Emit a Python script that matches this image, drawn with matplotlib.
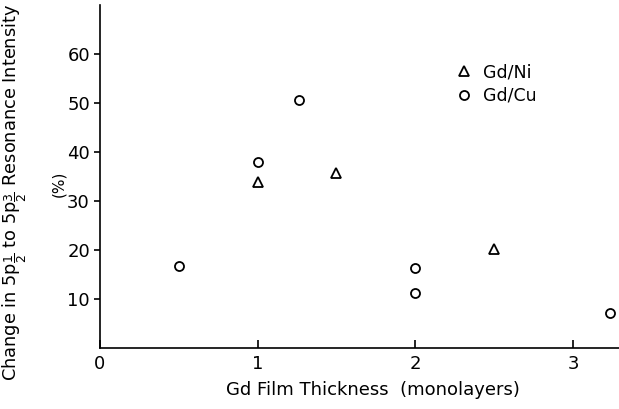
import matplotlib.pyplot as plt

# Resonance intensity change vs. Gd coverage
ni_thickness = [1.0, 1.5, 2.5]
ni_change = [33.8, 35.8, 20.2]

cu_thickness = [0.5, 1.0, 1.26, 2.0, 2.0, 3.23]
cu_change = [16.8, 38.0, 50.6, 16.4, 11.3, 7.2]

x_ticks = [0, 1, 2, 3]
y_ticks = [10, 20, 30, 40, 50, 60]

plt.rcParams['font.family'] = ['DejaVu Sans']
plt.rcParams['mathtext.fontset'] = 'dejavusans'

fig = plt.figure(figsize=(6.19, 4.09), dpi=100)
ax = fig.add_axes([0.161, 0.149, 0.839, 0.839])

ax.plot(ni_thickness, ni_change, linestyle='none', marker='^', markersize=7.5,
        markerfacecolor='none', markeredgecolor='black', markeredgewidth=1.3,
        label='Gd/Ni')
ax.plot(cu_thickness, cu_change, linestyle='none', marker='o', markersize=6.5,
        markerfacecolor='none', markeredgecolor='black', markeredgewidth=1.3,
        label='Gd/Cu')

ax.set_xlim(0, 3.29)
ax.set_ylim(0, 70)

ax.spines['top'].set_visible(False)
ax.spines['right'].set_visible(False)
for side in ['left', 'bottom']:
    ax.spines[side].set_linewidth(1.2)

ax.set_xticks(x_ticks)
ax.set_xticklabels([str(t) for t in x_ticks])
ax.set_yticks(y_ticks)
ax.tick_params(axis='x', direction='in', length=6, width=1.2, pad=5, labelsize=13)
ax.tick_params(axis='y', direction='out', length=4, width=1.2, pad=3, labelsize=13)

ax.set_xlabel('Gd Film Thickness  (monolayers)', fontsize=13, labelpad=6)
ax.xaxis.label.set_x(0.527)

# two-line y label: main line plus the (%) unit tucked underneath
fig.text(0.024, 0.53,
         r'Change in 5p$_{\dfrac{1}{2}}$ to 5p$_{\dfrac{3}{2}}$ Resonance Intensity',
         rotation=90, fontsize=12.8, ha='center', va='center')
fig.text(0.095, 0.55, '(%)', rotation=90, fontsize=11, ha='center', va='center')

ax.legend(loc='upper left', bbox_to_anchor=(0.655, 0.875), frameon=False,
          fontsize=12.5, handletextpad=0.6, labelspacing=0.3, handlelength=1.0)

fig.savefig('out.png', dpi=100)
